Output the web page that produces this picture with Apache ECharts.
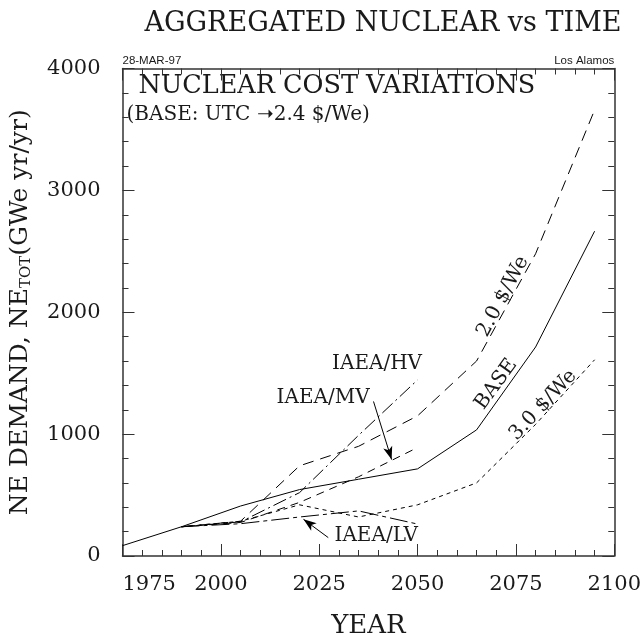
<!DOCTYPE html>
<html>
<head>
<meta charset="utf-8">
<script src="https://cdn.jsdelivr.net/npm/echarts@6/dist/echarts.min.js"></script>
<style>
  html, body { margin: 0; padding: 0; background: #fff; }
  #chart { width: 644px; height: 644px; }
</style>
</head>
<body>
<div id="chart"></div>
<script>
// model time steps (15 yr)
var years = [1975, 1990, 2005, 2020, 2035, 2050, 2065, 2080, 2095];
var baseValues   = [85, 240, 410, 545, 630, 715, 1035, 1715, 2665];
var cost20Values = [null, 240, 285, 740, 900, 1150, 1600, 2480, 3660];
var cost30Values = [null, 240, 285, 420, 320, 420, 600, 1080, 1610];
var iaeaHvValues = [null, 240, 280, 520, 990, 1445, null, null, null];
var iaeaMvValues = [null, 240, 275, 440, 650, 890, null, null, null];
var iaeaLvValues = [null, 240, 265, 320, 370, 262, null, null, null];
var xTicks = [1975, 2000, 2025, 2050, 2075, 2100];
var yTicks = [0, 1000, 2000, 3000, 4000];

var serif = 'DejaVu Serif';
var ink = '#1a1a1a';
var frame = '#333';

function pairs(vals) {
    return years.map(function (y, i) {
        return [y, vals[i] == null ? '-' : vals[i]];
    });
}

function plain(v) {
    return String(v);
}

function lineSeries(name, vals, dash) {
    return {
        name: name,
        type: 'line',
        data: pairs(vals),
        symbol: 'none',
        lineStyle: { color: '#000', width: 1, type: dash },
        z: 3
    };
}

// shared frame styling, ticks point inward on all four sides
function frameAxis(pos, ticks, showLabel) {
    return {
        type: 'value',
        position: pos,
        min: ticks[0],
        max: ticks[ticks.length - 1],
        interval: ticks[1] - ticks[0],
        axisLine: { show: true, onZero: false, lineStyle: { color: frame, width: 1.5 } },
        axisTick: { show: true, inside: true, length: 12, lineStyle: { color: frame, width: 1 } },
        minorTick: { show: true, splitNumber: 5, length: 6, lineStyle: { color: frame, width: 1 } },
        splitLine: { show: false },
        axisLabel: { show: showLabel }
    };
}

var xBottom = frameAxis('bottom', xTicks, true);
xBottom.axisLabel = { show: true, color: ink, fontFamily: serif, fontSize: 21, margin: 18, alignMinLabel: 'left', formatter: plain };
xBottom.name = 'YEAR';
xBottom.nameLocation = 'middle';
xBottom.nameGap = 57;
xBottom.nameTextStyle = { fontFamily: serif, fontSize: 26, color: ink };

var yLeft = frameAxis('left', yTicks, true);
yLeft.axisLabel = { show: true, color: ink, fontFamily: serif, fontSize: 21, margin: 22, formatter: plain };
yLeft.name = '{m|NE DEMAND, NE}{s|TOT}{m|(GWe yr/yr)}';
yLeft.nameLocation = 'middle';
yLeft.nameRotate = 90;
yLeft.nameGap = 81;
yLeft.nameTextStyle = {
    rich: {
        m: { fontFamily: serif, fontSize: 25, color: ink, lineHeight: 25, verticalAlign: 'top', padding: [0, 0, 3, 0] },
        s: { fontFamily: serif, fontSize: 15, color: ink, lineHeight: 15, verticalAlign: 'bottom' }
    }
};

var chart = echarts.init(document.getElementById('chart'));

var option = {
    animation: false,
    backgroundColor: '#fff',
    title: {
        text: 'AGGREGATED NUCLEAR vs TIME',
        left: 378,
        top: 5,
        textAlign: 'center',
        textStyle: { fontFamily: serif, fontSize: 27, fontWeight: 'normal', color: ink }
    },
    grid: { left: 122.5, right: 29.5, top: 68.5, bottom: 85.5, containLabel: false },
    xAxis: [xBottom, frameAxis('top', xTicks, false)],
    yAxis: [yLeft, frameAxis('right', yTicks, false)],
    series: [
        lineSeries('BASE', baseValues, 'solid'),
        lineSeries('2.0 $/We', cost20Values, [11, 7]),
        lineSeries('3.0 $/We', cost30Values, [4, 4]),
        lineSeries('IAEA/HV', iaeaHvValues, [14, 4, 2, 4]),
        (function () {
            var s = lineSeries('IAEA/MV', iaeaMvValues, [8, 6]);
            s.markLine = {
                silent: true,
                symbol: ['none', 'arrow'],
                symbolSize: [7, 13],
                label: { show: false },
                lineStyle: { color: '#000', type: 'solid', width: 1 },
                data: [[{ coord: [2038.8, 1268] }, { coord: [2043.4, 791] }]]
            };
            return s;
        })(),
        (function () {
            var s = lineSeries('IAEA/LV', iaeaLvValues, [18, 4, 4, 4]);
            s.markLine = {
                silent: true,
                symbol: ['none', 'arrow'],
                symbolSize: [7, 13],
                label: { show: false },
                lineStyle: { color: '#000', type: 'solid', width: 1 },
                data: [[{ coord: [2027.3, 151] }, { coord: [2021, 301] }]]
            };
            return s;
        })()
    ]
};
chart.setOption(option);

// text notes placed in data space
var notes = [
    { text: 'IAEA/HV', at: [2039.7, 1573], rot: 0 },
    { text: 'IAEA/MV', at: [2026, 1295], rot: 0 },
    { text: 'IAEA/LV', at: [2039.5, 167], rot: 0 },
    { text: 'BASE', at: [2070, 1409], rot: 54 },
    { text: '2.0 $/We', at: [2071.7, 2128], rot: 62 },
    { text: '3.0 $/We', at: [2081.9, 1238], rot: 47 }
];

var graphics = notes.map(function (n) {
    var p = chart.convertToPixel({ gridIndex: 0 }, n.at);
    return {
        type: 'text',
        x: p[0],
        y: p[1],
        rotation: n.rot * Math.PI / 180,
        style: {
            text: n.text,
            fontFamily: serif,
            fontSize: 20,
            fill: ink,
            align: 'center',
            verticalAlign: 'middle'
        },
        z: 10
    };
});

var gLeft = chart.convertToPixel({ xAxisIndex: 0 }, xTicks[0]);
var gRight = chart.convertToPixel({ xAxisIndex: 0 }, xTicks[xTicks.length - 1]);
var gTop = chart.convertToPixel({ yAxisIndex: 0 }, yTicks[yTicks.length - 1]);

graphics.push(
    {
        type: 'text', x: gLeft, y: gTop - 2,
        style: { text: '28-MAR-97', fontFamily: 'Liberation Sans', fontSize: 11.5, fill: ink, align: 'left', verticalAlign: 'bottom' }
    },
    {
        type: 'text', x: gRight, y: gTop - 2,
        style: { text: 'Los Alamos', fontFamily: 'Liberation Sans', fontSize: 11.5, fill: ink, align: 'right', verticalAlign: 'bottom' }
    },
    {
        type: 'text', x: gLeft + 16, y: gTop + 18,
        style: { text: 'NUCLEAR COST VARIATIONS', fontFamily: serif, fontSize: 25.5, fill: ink, align: 'left', verticalAlign: 'middle' }
    },
    {
        type: 'text', x: gLeft + 4, y: gTop + 46,
        style: { text: '(BASE: UTC \u279D2.4 $/We)', fontFamily: serif, fontSize: 20, fill: ink, align: 'left', verticalAlign: 'middle' }
    }
);

chart.setOption({ graphic: graphics });

window.addEventListener('resize', function () {
    chart.resize();
});
</script>
</body>
</html>
